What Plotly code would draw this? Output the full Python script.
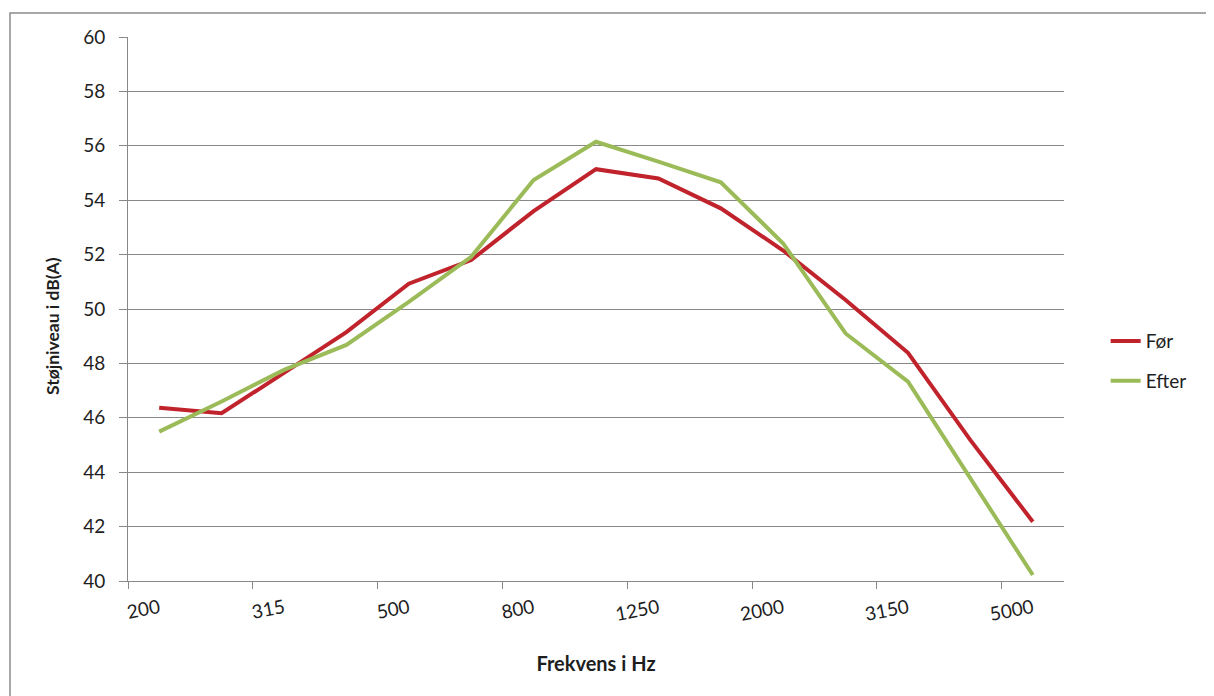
import plotly.graph_objects as go

freqs = ["200", "250", "315", "400", "500", "630", "800", "1000", "1250",
         "1600", "2000", "2500", "3150", "4000", "5000"]
foer = [46.37, 46.17, 47.65, 49.15, 50.93, 51.8, 53.6, 55.14, 54.8,
        53.7, 52.15, 50.33, 48.39, 45.18, 42.18]
efter = [45.49, 46.6, 47.76, 48.68, 50.26, 51.92, 54.74, 56.15, 55.42,
         54.66, 52.41, 49.1, 47.33, 43.78, 40.22]
label_freqs = ["200", "315", "500", "800", "1250", "2000", "3150", "5000"]
y_ticks = [40, 42, 44, 46, 48, 50, 52, 54, 56, 58, 60]

FONT = "Lato, Carlito, Calibri, sans-serif"
GRID = "#888888"
TXT = "#1e1e1e"

fig = go.Figure()
fig.add_trace(go.Scatter(x=freqs, y=foer, mode="lines", name="Før",
                         line=dict(color="#C0232B", width=4), legendgroup="a"))
fig.add_trace(go.Scatter(x=freqs, y=efter, mode="lines", name="Efter",
                         line=dict(color="#9BBB59", width=4), legendgroup="b"))
# invisible trace on xaxis2 to carry boundary tick marks
fig.add_trace(go.Scatter(x=[-0.5], y=[None], xaxis="x2", showlegend=False,
                         hoverinfo="skip", mode="markers"))

n = len(freqs)
W, H = 1214, 696
L, T, PW, PH = 120, 29, 936, 544
fig.update_layout(
    width=W, height=H,
    margin=dict(l=L, r=W - L - PW, t=T, b=H - T - PH),
    paper_bgcolor="white", plot_bgcolor="white",
    font=dict(family=FONT, size=19, color=TXT),
    xaxis=dict(type="category", categoryorder="array", categoryarray=freqs,
               range=[-0.5, n - 0.5], tickmode="array", tickvals=label_freqs,
               ticktext=label_freqs, ticks="", tickangle=-11, ticklabelstandoff=8,
               showgrid=False, showline=True, linecolor=GRID, linewidth=1,
               zeroline=False, tickfont=dict(size=19, color=TXT),
               title=dict(text="<b>Frekvens i Hz</b>", font=dict(size=20), standoff=33)),
    xaxis2=dict(overlaying="x", range=[-0.5, n - 0.5], tickmode="array",
                tickvals=[i - 0.5 for i in range(0, n, 2)], ticktext=[""] * 8,
                ticks="outside", ticklen=7, tickcolor=GRID, showgrid=False,
                showline=False, zeroline=False, showticklabels=False, side="bottom",
                anchor="y"),
    yaxis=dict(range=[40, 60], tickmode="array", tickvals=y_ticks,
               ticks="outside", ticklen=8, tickcolor=GRID, ticklabelstandoff=10,
               showgrid=True, gridcolor=GRID, gridwidth=1,
               showline=True, linecolor=GRID, linewidth=1, zeroline=False,
               tickfont=dict(size=19, color=TXT)),
    legend=dict(x=1.0445, y=0.404, xanchor="left", yanchor="middle",
                font=dict(size=19, color=TXT), tracegroupgap=12,
                bgcolor="rgba(0,0,0,0)"),
    showlegend=True,
)
fig.add_annotation(text="<b>Støjniveau i dB(A)</b>", textangle=-90,
                   xref="paper", yref="paper", x=-76 / PW, y=1 - 289 / PH,
                   xanchor="center", yanchor="middle", showarrow=False,
                   font=dict(size=17.5, color=TXT))
fig.add_shape(type="rect", xref="paper", yref="paper",
              x0=-118 / PW, x1=1 + 200 / PW, y0=-200 / PH, y1=1 + 24 / PH,
              line=dict(color="#8C8C8C", width=1.5), layer="below")

fig.write_html("out.html")
